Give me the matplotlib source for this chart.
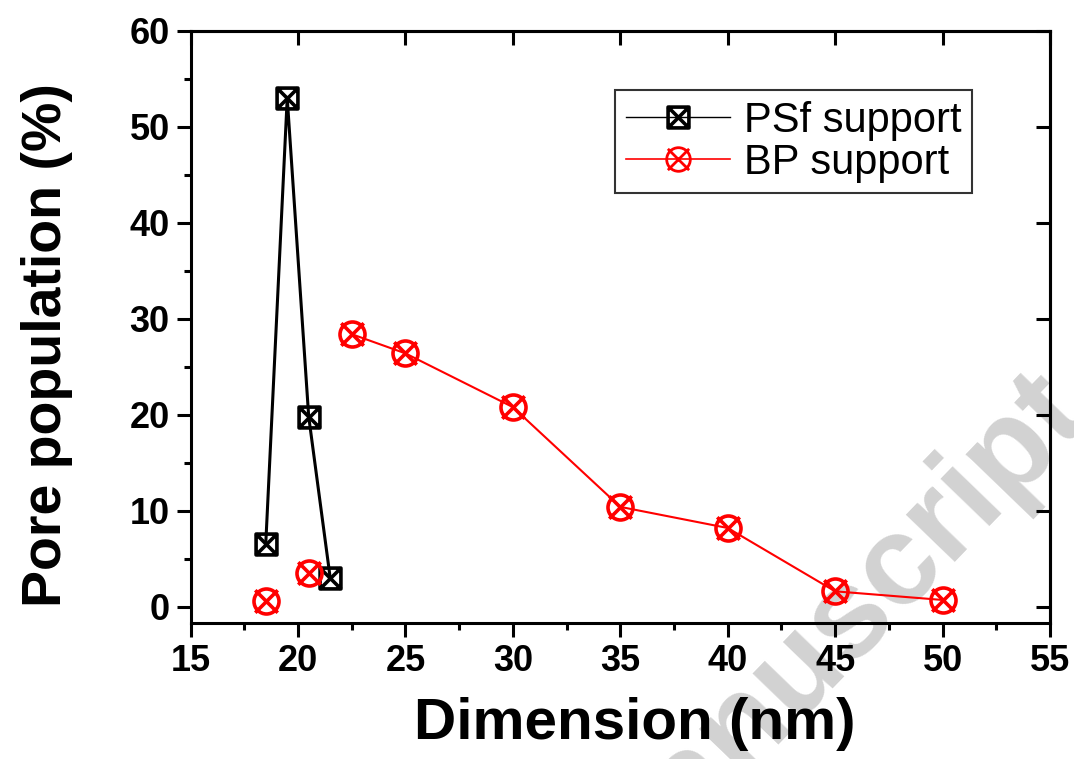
import matplotlib
matplotlib.use("Agg")
import matplotlib.pyplot as plt
from matplotlib.path import Path
from matplotlib.ticker import MultipleLocator
import numpy as np

# pore size distribution
psf_dim = [18.5, 19.5, 20.5, 21.5]
psf_pop = [6.5, 53.0, 19.8, 3.0]

bp_dim = [18.5, 20.5, 22.5, 25, 30, 35, 40, 45, 50]
bp_pop = [0.6, 3.5, 28.4, 26.4, 20.8, 10.4, 8.2, 1.6, 0.7]
bp_line_start = 2  # first two points are not joined in the original

x_ticks = [15, 20, 25, 30, 35, 40, 45, 50, 55]
y_ticks = [0, 10, 20, 30, 40, 50, 60]

# marker shapes: square with X, circle with X
sq = Path([(-1, -1), (1, -1), (1, 1), (-1, 1), (-1, -1)],
          [Path.MOVETO, Path.LINETO, Path.LINETO, Path.LINETO, Path.CLOSEPOLY])
cross = Path([(-1, -1), (1, 1), (-1, 1), (1, -1)],
             [Path.MOVETO, Path.LINETO, Path.MOVETO, Path.LINETO])
sq_x = Path.make_compound_path(sq, cross)
circ = Path.unit_circle()
cross2 = Path([(-0.9, -0.9), (0.9, 0.9), (-0.9, 0.9), (0.9, -0.9)],
              [Path.MOVETO, Path.LINETO, Path.MOVETO, Path.LINETO])
circ_x = Path.make_compound_path(circ, cross2)

plt.rcParams['font.family'] = ['Liberation Sans', 'DejaVu Sans']

fig = plt.figure(figsize=(10.74, 7.59), dpi=100)
ax = fig.add_axes([0.1774, 0.1792, 0.8003, 0.78])
ax.set_facecolor('none')

# watermark behind the axes
fig.text(1.015, 0.455, "Manuscript", rotation=46, rotation_mode='anchor',
         ha='right', va='baseline', fontsize=92, fontweight='bold',
         color='#d2d2d2', zorder=-5)

ax.plot(psf_dim, psf_pop, color='black', lw=2.2, marker=sq_x, ms=15,
        mfc='none', mec='black', mew=2.6, label='PSf support', zorder=3)
ax.plot(bp_dim[bp_line_start:], bp_pop[bp_line_start:], color='red', lw=1.5,
        zorder=2)
ax.plot(bp_dim, bp_pop, ls='none', marker=circ_x, ms=18, mfc='none',
        mec='red', mew=2.6, zorder=3)
# legend proxy for BP
ax.plot([], [], color='red', lw=1.2, marker=circ_x, ms=17, mfc='none',
        mec='red', mew=2.0, label='BP support')

ax.set_xlim(15, 55)
ax.set_ylim(-1.7, 60)
ax.set_xticks(x_ticks)
ax.set_yticks(y_ticks)
ax.xaxis.set_minor_locator(MultipleLocator(2.5))
ax.yaxis.set_minor_locator(MultipleLocator(5))

for sp in ax.spines.values():
    sp.set_linewidth(2.2)

ax.tick_params(which='major', direction='out', length=10, width=2.2,
               labelsize=26, pad=5)
ax.tick_params(which='minor', direction='out', length=5, width=2.2)
for lab in ax.get_xticklabels() + ax.get_yticklabels():
    lab.set_fontweight('bold')

# top and right: inward major ticks only
top = ax.secondary_xaxis('top')
top.set_xticks(x_ticks)
top.tick_params(direction='in', length=10, width=2.2, labeltop=False)
top.xaxis.set_minor_locator(plt.NullLocator())
right = ax.secondary_yaxis('right')
right.set_yticks(y_ticks)
right.tick_params(direction='in', length=10, width=2.2, labelright=False)
right.yaxis.set_minor_locator(plt.NullLocator())
for s in (top, right):
    for sp in s.spines.values():
        sp.set_linewidth(2.2)

ax.set_xlabel("Dimension (nm)", fontsize=42, fontweight='bold')
ax.xaxis.set_label_coords(0.517, -0.125)
ax.set_ylabel("Pore population (%)", fontsize=40, fontweight='bold')
ax.yaxis.set_label_coords(-0.137, 0.47)

leg = ax.legend(loc='upper left', bbox_to_anchor=(0.494, 0.90),
                borderaxespad=0, fontsize=30, frameon=True, fancybox=False,
                handlelength=2.5, handletextpad=0.35, labelspacing=0.05,
                borderpad=0.25, edgecolor='black')
leg.get_frame().set_linewidth(1.5)
leg.get_lines()[0].set_linewidth(1.0)

fig.savefig("out.png", dpi=100)
